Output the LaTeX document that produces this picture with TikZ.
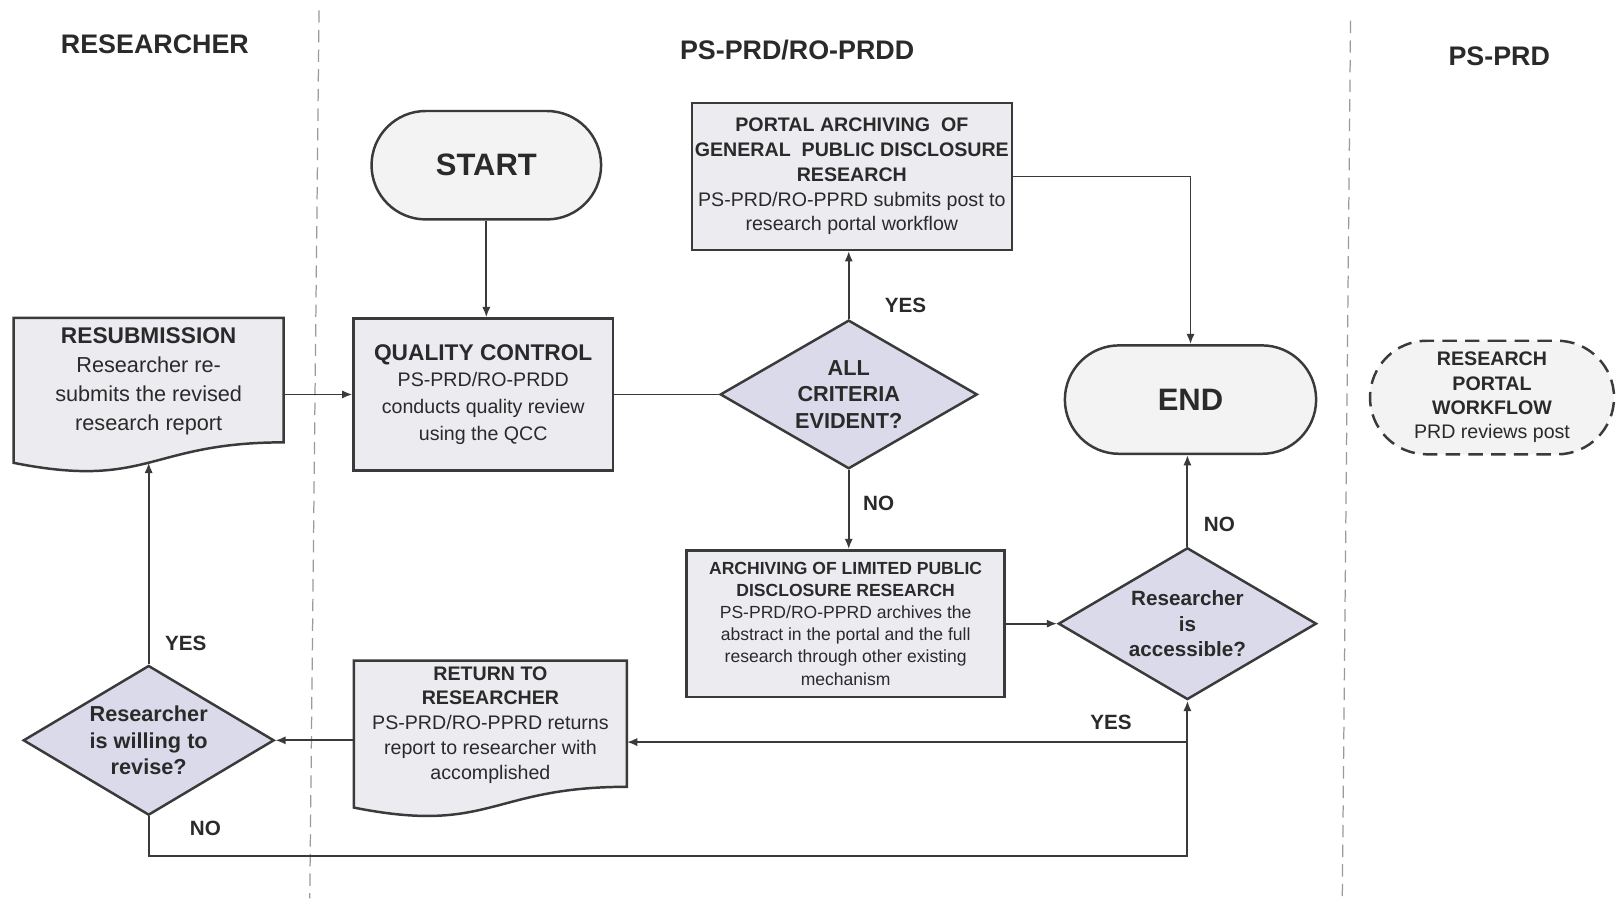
\documentclass[tikz,border=0pt]{standalone}
\usepackage{fontspec}
\setmainfont{Liberation Sans}
\usepackage{tikz}
\usetikzlibrary{shapes.geometric, shapes.misc, arrows.meta, calc, backgrounds}
\definecolor{linegray}{HTML}{3A3A3A}
\definecolor{txtgray}{HTML}{2A2A2A}
\definecolor{boxgray}{HTML}{ECECF0}
\definecolor{diafill}{HTML}{DADAEA}
\definecolor{termfill}{HTML}{F3F3F3}
\definecolor{lanegray}{HTML}{9A9A9A}

\begin{document}
\begin{tikzpicture}[x=1pt, y=-1pt,
      every node/.style={text=txtgray},
      lane/.style={draw=lanegray, line width=1.2pt, dash pattern=on 12pt off 7pt},
      hdr/.style={font=\fontsize{26}{30}\selectfont\bfseries},
      term/.style={rounded rectangle, draw=linegray, line width=2.4pt, fill=termfill,
        minimum width=229pt, minimum height=105pt, font=\fontsize{30}{34}\selectfont\bfseries},
      proc/.style={rectangle, draw=linegray, line width=2.4pt, fill=boxgray, align=center, inner sep=0pt},
      doc/.style={rectangle, align=center, inner sep=0pt, text depth=32pt},
      dec/.style={diamond, aspect=1.7, draw=linegray, line width=2.4pt, fill=diafill, align=center, inner sep=0pt},
      flow/.style={draw=linegray, line width=1.8pt, -{Latex[length=10pt,width=8pt]}},
      plain/.style={draw=linegray, line width=1.8pt},
      lbl/.style={font=\fontsize{20}{24}\selectfont\bfseries, inner sep=0pt}]
      \useasboundingbox (0,0) rectangle (1568,871);
      \draw[lane] (309,10) -- (300,870);
      \draw[lane] (1308,20) -- (1300,870);
      \node[hdr] (hres) at (150,43) {RESEARCHER};
      \node[hdr] (hmid) at (772,48) {PS-PRD/RO-PRDD};
      \node[hdr] (hprd) at (1452,54) {PS-PRD};
      \node[term] (start) at (471,160) {START};
      \node[proc, minimum width=251pt, minimum height=147pt, font=\fontsize{19}{26}\selectfont] (qc) at (468,382)
        {{\fontsize{22}{26}\selectfont\bfseries QUALITY CONTROL}\\PS-PRD/RO-PRDD\\conducts quality review\\using the QCC};
      \node[doc, minimum width=261pt, minimum height=150pt, font=\fontsize{21}{28}\selectfont] (resub) at (144,383)
        {{\fontsize{22}{28}\selectfont\bfseries RESUBMISSION}\\Researcher re-\\submits the revised\\research report};
      \node[dec, minimum width=249pt, minimum height=144pt, font=\fontsize{21}{26}\selectfont\bfseries] (crit) at (822,382)
        {ALL\\CRITERIA\\EVIDENT?};
      \node[proc, minimum width=310pt, minimum height=142pt, font=\fontsize{19}{24}\selectfont] (portal) at (825,171)
        {\textbf{PORTAL ARCHIVING\ \ OF}\\\textbf{GENERAL\ \ PUBLIC DISCLOSURE}\\\textbf{RESEARCH}\\PS-PRD/RO-PPRD submits post to\\research portal workflow};
      \node[term, minimum width=250pt] (endn) at (1153,387) {END};
      \node[term, dash pattern=on 14pt off 8pt, minimum width=243pt, minimum height=110pt, align=center,
        font=\fontsize{19}{23.5}\selectfont] (wf) at (1445,385)
        {\textbf{RESEARCH}\\\textbf{PORTAL}\\\textbf{WORKFLOW}\\PRD reviews post};
      \node[proc, minimum width=308pt, minimum height=142pt, font=\fontsize{17}{21.5}\selectfont] (arch) at (819,604)
        {\textbf{ARCHIVING OF LIMITED PUBLIC}\\\textbf{DISCLOSURE RESEARCH}\\PS-PRD/RO-PPRD archives the\\abstract in the portal and the full\\research through other existing\\mechanism};
      \node[dec, minimum width=250pt, minimum height=147pt, font=\fontsize{20}{25}\selectfont\bfseries] (access) at (1150,604)
        {Researcher\\is\\accessible?};
      \node[doc, minimum width=264pt, minimum height=152pt, font=\fontsize{19}{24}\selectfont] (ret) at (475,716)
        {\textbf{RETURN TO}\\\textbf{RESEARCHER}\\PS-PRD/RO-PPRD returns\\report to researcher with\\accomplished};
      \node[dec, minimum width=243pt, minimum height=145pt, font=\fontsize{21}{26}\selectfont\bfseries] (will) at (144,717)
        {Researcher\\is willing to\\revise?};
      \begin{scope}[on background layer]
        \foreach \d in {resub, ret}
          \draw[linegray, line width=2.4pt, fill=boxgray] (\d.north west) -- (\d.north east)
            -- ($(\d.north east)!0.802!(\d.south east)$)
            .. controls ($(\d.north)!0.802!(\d.south)$) and ($(\d.north)!1.107!(\d.south)$)
            .. ($(\d.north west)!0.934!(\d.south west)$) -- cycle;
      \end{scope}
      \draw[flow] (start.south) -- (start.south |- qc.north);
      \draw[flow] (qc.west -| resub.east) -- (qc.west);
      \draw[plain] (qc.east) -- (crit.west);
      \draw[flow] (crit.north) -- (crit.north |- portal.south);
      \draw[flow] (crit.south) -- (crit.south |- arch.north);
      \draw[flow] (portal.east) -| (endn.north);
      \draw[flow] (arch.east) -- (access.west);
      \draw[flow] (access.north) -- (access.north |- endn.south);
      \coordinate (yesj) at ($(access.south)+(0,40)$);
      \draw[flow] (yesj) -- (yesj -| ret.east);
      \draw[flow] (ret.west |- will.east) -- (will.east);
      \draw[flow] (will.north) -- ($(resub.north)!0.933!(resub.south)$);
      \draw[flow] (will.south) -- ++(0,38) -| (access.south);
      \node[lbl] (ycrit) at (877,296) {YES};
      \node[lbl] (ncrit) at (851,488) {NO};
      \node[lbl] (nacc) at (1181,508) {NO};
      \node[lbl] (yacc) at (1076,700) {YES};
      \node[lbl] (ywill) at (180,623) {YES};
      \node[lbl] (nwill) at (199,802) {NO};
    \end{tikzpicture}
\end{document}
